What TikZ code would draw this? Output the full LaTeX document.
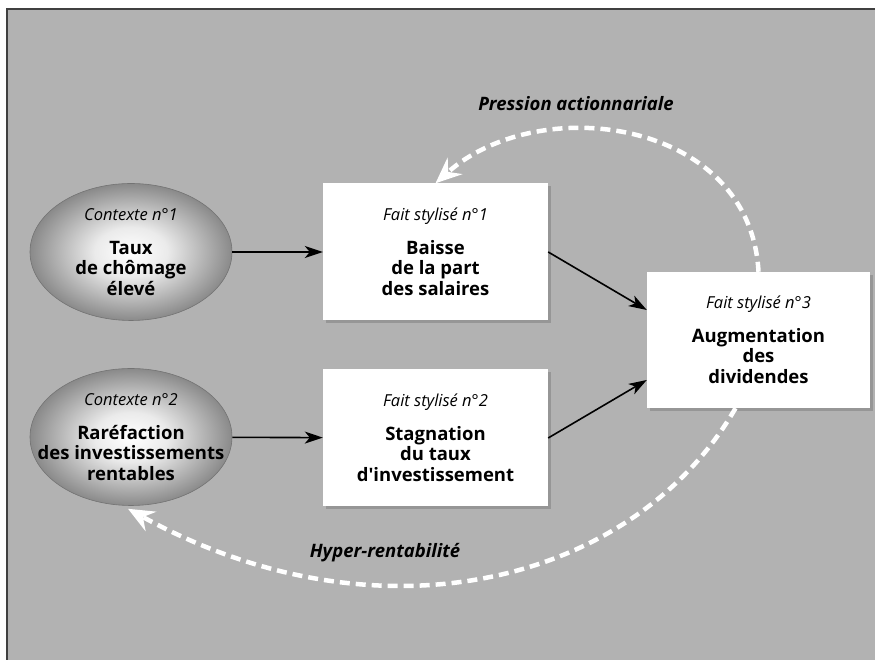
\documentclass[tikz,border=0pt]{standalone}
\usepackage{fontspec}
\setmainfont{Open Sans}
\usetikzlibrary{arrows.meta,shadows,shapes.geometric}

\pgfdeclareradialshading{bulle}{\pgfpoint{0bp}{0bp}}{%
  color(0bp)=(white); color(9bp)=(black!8);
  color(25bp)=(black!46); color(50bp)=(black!46)}

\begin{document}
\begin{tikzpicture}[x=1pt,y=1pt,
    contexte/.style={
      ellipse, draw=black!55, line width=.6pt, shading=bulle,
      minimum width=202pt, minimum height=137pt, inner xsep=-28pt, inner ysep=-12pt,
      align=center, font=\bfseries\fontsize{18.5}{20.5}\selectfont,
    },
    fait/.style={
      fill=white, minimum width=225pt, minimum height=137pt,
      drop shadow={shadow xshift=3pt, shadow yshift=-3pt, opacity=.55},
      align=center, font=\bfseries\fontsize{18.5}{20.5}\selectfont,
    },
    fleche/.style={-{Stealth[length=18pt,width=12pt,inset=5pt]}, line width=1.6pt},
    retour/.style={white, line width=4.5pt, dash pattern=on 10pt off 6pt,
      -{Stealth[length=26pt,width=22pt,inset=9pt,fill=white]}},
    titre/.style={font=\bfseries\itshape\fontsize{18.5}{20}\selectfont},
  ]
  \useasboundingbox (0,0) rectangle (875,660);
  \clip (0,0) rectangle (875,660);
  \draw[fill=black!30, draw=black!75, line width=1.5pt] (7,-10) rectangle (890,651);

  \node[contexte] (ctx1) at (131,408) {{\mdseries\itshape\fontsize{16.5}{20}\selectfont Contexte n°1}\\[13pt]Taux\\de chômage\\élevé};
  \node[contexte] (ctx2) at (131,223) {{\mdseries\itshape\fontsize{16.5}{20}\selectfont Contexte n°2}\\[13pt]Raréfaction\\des investissements\\rentables};
  \node[fait] (fait1) at (435.5,408) {{\mdseries\itshape\fontsize{16.5}{20}\selectfont Fait stylisé n°1}\\[13pt]Baisse\\de la part\\des salaires};
  \node[fait] (fait2) at (435.5,222) {{\mdseries\itshape\fontsize{16.5}{20}\selectfont Fait stylisé n°2}\\[13pt]Stagnation\\du taux\\d\textquotesingle investissement};
  \node[fait, minimum width=223pt, minimum height=136pt] (fait3) at (758.5,320) {{\mdseries\itshape\fontsize{16.5}{20}\selectfont Fait stylisé n°3}\\[13pt]Augmentation\\des\\dividendes};

  \draw[fleche] (ctx1) -- (fait1);
  \draw[fleche] (ctx2) -- (fait2);
  \draw[fleche] (fait1.east) -- ([yshift=30pt]fait3.west);
  \draw[fleche] (fait2.east) -- ([yshift=-40pt]fait3.west);

  \draw[retour] (fait3.north) .. controls +(-8,152) and +(104,93) .. (fait1.north);
  \draw[retour] ([xshift=-23pt]fait3.south) .. controls +(-100,-173) and +(254,-140) .. ([xshift=-3pt,yshift=-3pt]ctx2.south);

  \node[titre] (pression) at (576,556) {Pression actionnariale};
  \node[titre] (hyper) at (385,107) {Hyper-rentabilité};
\end{tikzpicture}
\end{document}
